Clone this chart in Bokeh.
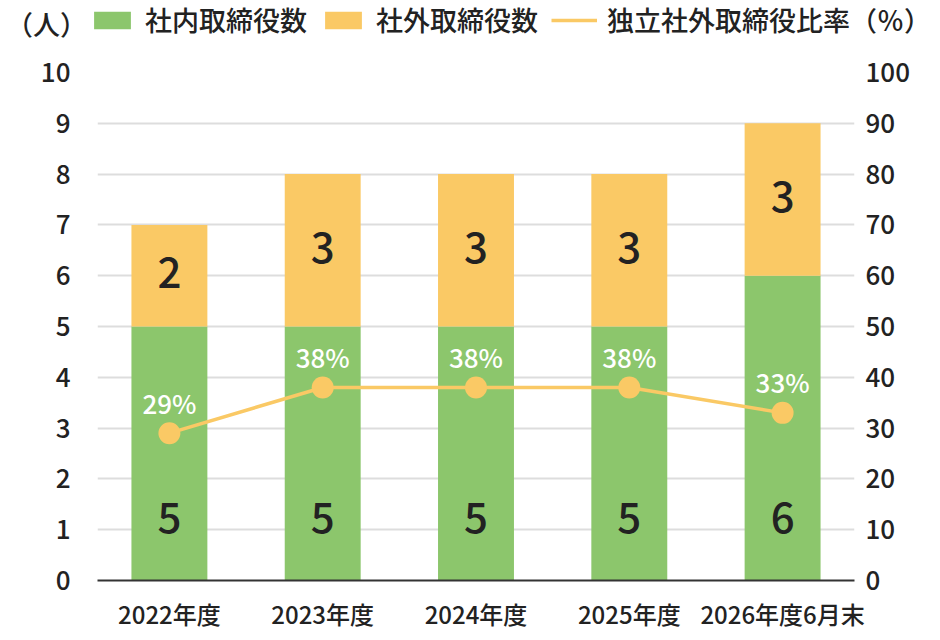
from bokeh.plotting import figure
from bokeh.models import (ColumnDataSource, Range1d, LinearAxis, FactorRange,
                          Legend, LegendItem, FixedTicker, Label)
from bokeh.layouts import column
from bokeh.core.properties import value
from bokeh.embed import file_html
from bokeh.resources import INLINE

years = ["2022年度", "2023年度", "2024年度", "2025年度", "2026年度6月末"]
inside = [5, 5, 5, 5, 6]
outside = [2, 3, 3, 3, 3]
ratio = [29, 38, 38, 38, 33]
legend_labels = ["社内取締役数", "社外取締役数", "独立社外取締役比率（％）"]
unit_label = "（人）"

FONT = "'Noto Sans CJK JP Medium', 'Noto Sans CJK JP'"
GREEN = "#8CC66C"
YELLOW = "#FAC965"
DARK = "#222222"
W = 940
LEG_H = 44

# ---------------- legend strip ----------------
lg = figure(width=W, height=LEG_H, x_range=Range1d(0, W), y_range=Range1d(0, LEG_H),
            output_backend="svg", toolbar_location=None,
            x_axis_location=None, y_axis_location=None,
            min_border=0, min_border_left=0, min_border_right=0,
            min_border_top=0, min_border_bottom=0)
lg.frame_align = False
lg.outline_line_color = None
lg.grid.grid_line_color = None
idx = list(range(len(years)))
d_in = lg.vbar(x=idx, top=inside, width=0.5, fill_color=GREEN, line_color=None, visible=False)
d_out = lg.vbar(x=idx, top=outside, width=0.5, fill_color=YELLOW, line_color=None, visible=False)
d_line = lg.line(x=idx, y=ratio, line_color=YELLOW, line_width=3.5, visible=False)
legend = Legend(items=[
    LegendItem(label=legend_labels[0], renderers=[d_in]),
    LegendItem(label=legend_labels[1], renderers=[d_out]),
    LegendItem(label=legend_labels[2], renderers=[d_line]),
], orientation="horizontal", location=(89, 5))
legend.label_text_font = FONT
legend.label_text_font_size = "27px"
legend.label_text_color = DARK
legend.glyph_width = 46
legend.glyph_height = 22
legend.label_height = 22
legend.label_standoff = 10
legend.spacing = 13
legend.padding = 3
legend.margin = 0
legend.border_line_color = None
legend.background_fill_alpha = 0
legend.inactive_fill_alpha = 0
lg.add_layout(legend, "center")
lg.add_layout(Label(x=46, y=LEG_H / 2 - 1, text=unit_label, text_font=FONT,
                    text_font_size="27px", text_color=DARK,
                    text_align="center", text_baseline="middle"))

# ---------------- main chart ----------------
total = [a + b for a, b in zip(inside, outside)]
src = ColumnDataSource(dict(
    x=years, inside=inside, outside=outside, total=total,
    base=[0] * len(years),
    out_mid=[a + b / 2 for a, b in zip(inside, outside)],
    in_txt=[str(v) for v in inside], out_txt=[str(v) for v in outside],
    ratio=ratio, ratio_txt=[f"{v}%" for v in ratio],
))

p = figure(x_range=FactorRange(*years, factor_padding=0.066, range_padding=0),
           y_range=Range1d(0, 10),
           width=W, height=640 - LEG_H, output_backend="svg", toolbar_location=None,
           min_border_left=97, min_border_right=86, min_border_top=28, min_border_bottom=60)
p.outline_line_color = None
p.extra_y_ranges = {"pct": Range1d(0, 100)}

p.vbar(x="x", bottom=0, top="inside", width=0.528, source=src,
       fill_color=GREEN, line_color=None)
p.vbar(x="x", bottom="inside", top="total", width=0.528, source=src,
       fill_color=YELLOW, line_color=None)
p.line(x="x", y="ratio", source=src, y_range_name="pct",
       line_color=YELLOW, line_width=3.5)
p.scatter(x="x", y="ratio", source=src, y_range_name="pct", size=22,
          fill_color=YELLOW, line_color=None)

# inside-director counts sit low in the green bar, below the ratio line
p.text(x="x", y="base", text="in_txt", source=src, text_align="center",
       text_baseline="middle", y_offset=-63, text_font=value(FONT),
       text_font_size="42px", text_color=DARK)
p.text(x="x", y="out_mid", text="out_txt", source=src, text_align="center",
       text_baseline="middle", y_offset=-3, text_font=value(FONT),
       text_font_size="42px", text_color=DARK)
p.text(x="x", y="ratio", text="ratio_txt", source=src, y_range_name="pct",
       text_align="center", text_baseline="alphabetic", y_offset=-31,
       text_font=value(FONT), text_font_size="26px", text_color="white")

ticks = FixedTicker(ticks=list(range(0, 11)))
p.yaxis.ticker = ticks
p.ygrid.ticker = ticks
p.xgrid.grid_line_color = None
p.ygrid.grid_line_color = "#DDDDDD"
p.ygrid.grid_line_width = 2

right = LinearAxis(y_range_name="pct", ticker=FixedTicker(ticks=list(range(0, 101, 10))))
p.add_layout(right, "right")

for ax in p.yaxis:
    ax.axis_line_color = None
    ax.major_tick_line_color = None
    ax.minor_tick_line_color = None
    ax.major_label_text_font = FONT
    ax.major_label_text_font_size = "26px"
    ax.major_label_text_color = DARK
p.yaxis[0].major_label_standoff = 21
right.major_label_standoff = 5

xa = p.xaxis[0]
xa.axis_line_color = "#333333"
xa.axis_line_width = 2
xa.major_tick_line_color = None
xa.minor_tick_line_color = None
xa.major_label_text_font = FONT
xa.major_label_text_font_size = "24px"
xa.major_label_text_color = DARK
xa.major_label_standoff = 9

page = column(lg, p, spacing=0)
open("out.html", "w").write(file_html(page, INLINE))
